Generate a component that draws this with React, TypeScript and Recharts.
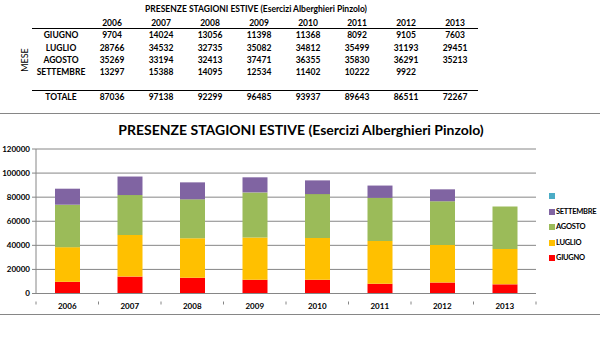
import React from 'react';
import { BarChart, Bar, XAxis, YAxis, CartesianGrid } from 'recharts';

const years = ['2006', '2007', '2008', '2009', '2010', '2011', '2012', '2013'];
const giugno = [9704, 14024, 13056, 11398, 11368, 8092, 9105, 7603];
const luglio = [28766, 34532, 32735, 35082, 34812, 35499, 31193, 29451];
const agosto = [35269, 33194, 32413, 37471, 36355, 35830, 36291, 35213];
const settembre: (number | null)[] = [13297, 15388, 14095, 12534, 11402, 10222, 9922, null];
const yTicks = [0, 20000, 40000, 60000, 80000, 100000, 120000];

const months = ['GIUGNO', 'LUGLIO', 'AGOSTO', 'SETTEMBRE'];
const seriesValues = [giugno, luglio, agosto, settembre];
const seriesColors = ['#FF0000', '#FFC000', '#9BBB59', '#8064A2'];
const legendItems = [
  { name: '', color: '#4BACC6' },
  { name: 'SETTEMBRE', color: '#8064A2' },
  { name: 'AGOSTO', color: '#9BBB59' },
  { name: 'LUGLIO', color: '#FFC000' },
  { name: 'GIUGNO', color: '#FF0000' },
];
const title = 'PRESENZE STAGIONI ESTIVE (Esercizi Alberghieri Pinzolo)';

const data = years.map((y, i) => ({
  year: y,
  GIUGNO: giugno[i],
  LUGLIO: luglio[i],
  AGOSTO: agosto[i],
  SETTEMBRE: settembre[i],
}));
const totals = years.map((_, i) => seriesValues.reduce((s, arr) => s + (arr[i] ?? 0), 0));

const FONT = 'Lato, "Open Sans", sans-serif';

const Txt = ({ x, y, children, size = 8.5, weight = 700, rotate = 0 }: any) => (
  <div
    style={{
      position: 'absolute',
      left: x,
      top: y,
      transform: `translate(-50%, -50%) rotate(${rotate}deg)`,
      fontSize: size,
      fontWeight: weight,
      whiteSpace: 'nowrap',
      lineHeight: 1,
      color: '#000',
    }}
  >
    {children}
  </div>
);

const colX = (i: number) => 112 + i * 49;
const rowY = [35, 47.5, 60, 72];

const XTick = (props: any) => {
  const { x, y, payload, index } = props;
  const half = 31.25;
  return (
    <g>
      <line x1={x - half} y1={y} x2={x - half} y2={y + 3} stroke="#868686" />
      {index === years.length - 1 && (
        <line x1={x + half} y1={y} x2={x + half} y2={y + 3} stroke="#868686" />
      )}
      <text x={x} y={y + 7} textAnchor="middle" fontSize={8} fontWeight={700} fill="#000" fontFamily={FONT}>
        {payload.value}
      </text>
    </g>
  );
};

export default function App() {
  return (
    <div
      style={{
        position: 'absolute',
        left: 0,
        top: 0,
        width: 600,
        height: 350,
        background: '#fff',
        fontFamily: FONT,
        overflow: 'hidden',
      }}
    >
      {/* Table */}
      <Txt x={256} y={9} size={8.5}>{title}</Txt>
      {years.map((y, i) => (
        <Txt key={y} x={colX(i)} y={23} size={8.5}>{y}</Txt>
      ))}
      <div style={{ position: 'absolute', left: 32, top: 28, width: 446, height: 1, background: '#000' }} />
      {months.map((m, r) => (
        <React.Fragment key={m}>
          <Txt x={61} y={rowY[r]} size={8.5}>{m}</Txt>
          {seriesValues[r].map((v, i) =>
            v == null ? null : (
              <Txt key={i} x={colX(i)} y={rowY[r]} size={8.5}>{v}</Txt>
            )
          )}
        </React.Fragment>
      ))}
      <Txt x={24} y={60} size={9} weight={400} rotate={-90}>MESE</Txt>
      <div style={{ position: 'absolute', left: 32, top: 90, width: 446, height: 1, background: '#000' }} />
      <Txt x={61} y={97} size={8.5}>TOTALE</Txt>
      {totals.map((t, i) => (
        <Txt key={i} x={colX(i)} y={97} size={8.5}>{t}</Txt>
      ))}

      {/* chart frame lines */}
      <div style={{ position: 'absolute', left: 0, top: 113, width: 600, height: 1, background: '#868686' }} />
      <div style={{ position: 'absolute', left: 0, top: 314, width: 600, height: 1, background: '#868686' }} />

      <Txt x={301} y={130} size={14}>{title}</Txt>

      <div style={{ position: 'absolute', left: 0, top: 0 }}>
        <BarChart
          width={600}
          height={350}
          data={data}
          margin={{ top: 149, right: 64, bottom: 36.5, left: 0 }}
          barSize={25}
        >
          <CartesianGrid vertical={false} stroke="#868686" />
          <XAxis
            dataKey="year"
            stroke="#868686"
            tickLine={false}
            tick={<XTick />}
            height={20}
            interval={0}
          />
          <YAxis
            width={36}
            domain={[0, 120000]}
            ticks={yTicks}
            stroke="#868686"
            tickSize={4}
            tickMargin={2}
            tick={{ fontSize: 8, fontWeight: 700, fill: '#000', fontFamily: FONT }}
            interval={0}
          />
          {months.map((m, i) => (
            <Bar key={m} dataKey={m} stackId="a" fill={seriesColors[i]} isAnimationActive={false} />
          ))}
        </BarChart>
      </div>

      {/* Legend */}
      {legendItems.map((it, i) => (
        <div
          key={i}
          style={{
            position: 'absolute',
            left: 549,
            top: 196 + i * 15.5 - 4,
            height: 8,
            display: 'flex',
            alignItems: 'center',
          }}
        >
          <div style={{ width: 6, height: 6, background: it.color, marginRight: 1 }} />
          <span style={{ fontSize: 7.5, fontWeight: 700, lineHeight: 1, color: '#000', letterSpacing: -0.3 }}>{it.name}</span>
        </div>
      ))}
    </div>
  );
}
